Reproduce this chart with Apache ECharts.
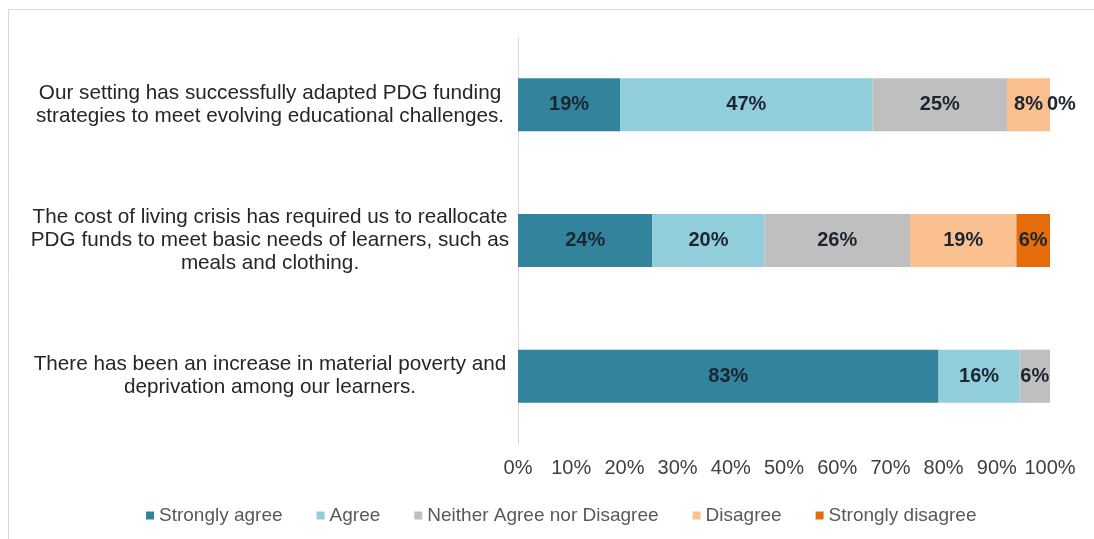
<!DOCTYPE html>
<html>
<head>
<meta charset="utf-8">
<script src="https://cdn.jsdelivr.net/npm/echarts@6/dist/echarts.min.js"></script>
<style>
html,body{margin:0;padding:0;background:#fff;}
#chart{width:1094px;height:539px;}
</style>
</head>
<body>
<div id="chart"></div>
<script>
// Categories, top to bottom
var categories = [
  "Our setting has successfully adapted PDG funding\nstrategies to meet evolving educational challenges.",
  "The cost of living crisis has required us to reallocate\nPDG funds to meet basic needs of learners, such as\nmeals and clothing.",
  "There has been an increase in material poverty and\ndeprivation among our learners."
];
var seriesNames = ["Strongly agree", "Agree", "Neither Agree nor Disagree", "Disagree", "Strongly disagree"];
// Labelled percentages per response (one value per category, top to bottom)
var stronglyAgree = [19, 24, 83];
var agree = [47, 20, 16];
var neither = [25, 26, 6];
var disagree = [8, 19, null];
var stronglyDisagree = [0, 6, null];
var xTicks = ["0%", "10%", "20%", "30%", "40%", "50%", "60%", "70%", "80%", "90%", "100%"];

var colors = ["#31849B", "#92CDDC", "#BFBFBF", "#FAC090", "#E46C0A"];
var raw = [stronglyAgree, agree, neither, disagree, stronglyDisagree];
var FONT = 'Liberation Sans, Arial, sans-serif';

// 100% stacked: each row normalised to its own total
var totals = categories.map(function (c, i) {
  var s = 0;
  raw.forEach(function (arr) { if (arr[i] != null) s += arr[i]; });
  return s;
});

var series = raw.map(function (arr, si) {
  return {
    name: seriesNames[si],
    type: 'bar',
    stack: 'total',
    barWidth: 53,
    itemStyle: { color: colors[si] },
    label: {
      show: true,
      position: 'inside',
      fontFamily: FONT,
      fontSize: 20,
      fontWeight: 'bold',
      color: '#1b2631',
      formatter: function (p) { return raw[si][p.dataIndex] + '%'; }
    },
    emphasis: { disabled: true },
    data: arr.map(function (v, i) {
      if (v == null) return null;
      var item = { value: v / totals[i] * 100 };
      if (v === 0) {
        item.label = { position: 'right', distance: -3 };
      }
      return item;
    })
  };
});

var chart = echarts.init(document.getElementById('chart'), null, { renderer: 'canvas' });
chart.setOption({
  animation: false,
  backgroundColor: '#ffffff',
  textStyle: { fontFamily: FONT },
  graphic: [{
    type: 'rect',
    shape: { x: 8.5, y: 9.5, width: 1200, height: 700 },
    style: { fill: 'none', stroke: '#d9d9d9', lineWidth: 1 },
    silent: true
  }],
  grid: { left: 518, right: 44, top: 37, bottom: 95 },
  legend: {
    data: seriesNames,
    left: 141,
    top: 501,
    itemWidth: 8,
    itemHeight: 8,
    itemGap: 34,
    icon: 'rect',
    textStyle: { fontSize: 19, color: '#595959', fontFamily: FONT }
  },
  xAxis: {
    type: 'value',
    min: 0,
    max: 100,
    interval: 10,
    axisLine: { show: false },
    axisTick: { show: false },
    splitLine: { show: false },
    axisLabel: {
      fontSize: 20,
      color: '#404040',
      margin: 14,
      formatter: function (v) { return xTicks[Math.round(v / 10)]; }
    }
  },
  yAxis: {
    type: 'category',
    inverse: true,
    data: categories,
    axisLine: { show: true, lineStyle: { color: '#d9d9d9', width: 1 } },
    axisTick: { show: false },
    axisLabel: {
      align: 'center',
      margin: 248,
      fontSize: 20.7,
      lineHeight: 23,
      color: '#262626'
    }
  },
  series: series
});
</script>
</body>
</html>
